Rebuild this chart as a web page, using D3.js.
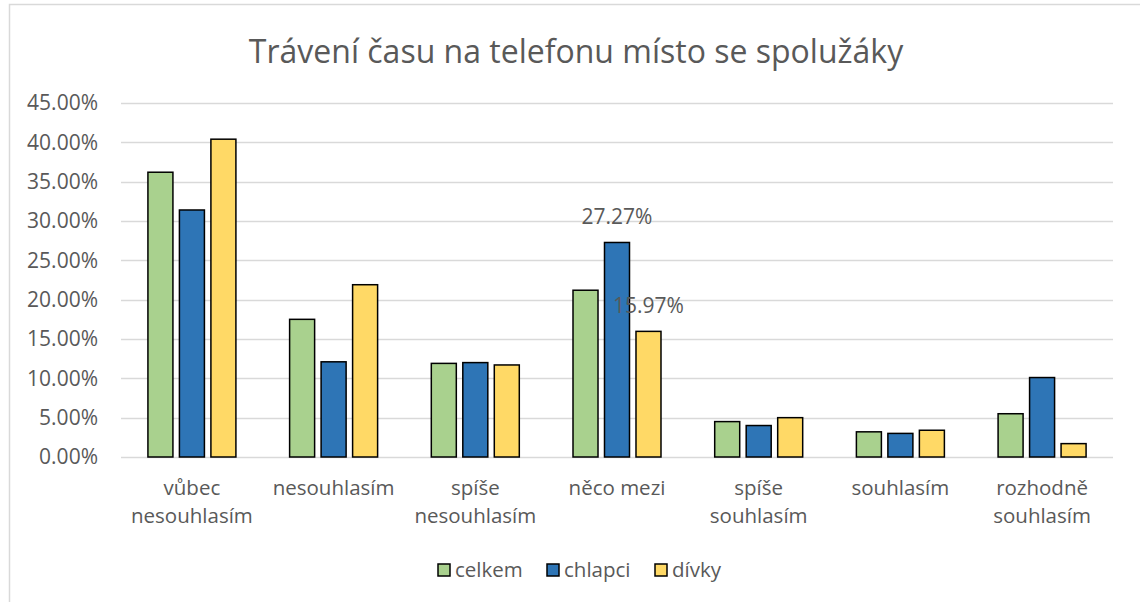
<!DOCTYPE html>
<html>
<head>
<meta charset="utf-8">
<script src="https://cdn.jsdelivr.net/npm/d3@7"></script>
<style>
  body { margin: 0; background: #fff; }
  text { font-family: "Open Sans", sans-serif; fill: #595959; }
</style>
</head>
<body>
<div id="chart"></div>
<script>
// data
const categories = [
  ["vůbec", "nesouhlasím"],
  ["nesouhlasím"],
  ["spíše", "nesouhlasím"],
  ["něco mezi"],
  ["spíše", "souhlasím"],
  ["souhlasím"],
  ["rozhodně", "souhlasím"]
];
const seriesNames = ["celkem", "chlapci", "dívky"];
const celkem  = [0.362, 0.175, 0.119, 0.212, 0.045, 0.032, 0.055];
const chlapci = [0.314, 0.121, 0.120, 0.2727, 0.040, 0.030, 0.101];
const divky   = [0.404, 0.219, 0.117, 0.1597, 0.050, 0.034, 0.017];
const yTicks = [0, 0.05, 0.10, 0.15, 0.20, 0.25, 0.30, 0.35, 0.40, 0.45];
const colors = ["#a9d18e", "#2e75b6", "#ffd966"];
// only these two bars carry a data label in the original
const labelled = [{s: 1, c: 3}, {s: 2, c: 3}];

const W = 1140, H = 602;
const margin = {top: 103, right: 27, bottom: 145, left: 121};
const innerW = W - margin.left - margin.right;
const innerH = H - margin.top - margin.bottom;

const svg = d3.select("#chart").append("svg")
  .attr("width", W)
  .attr("height", H);

// chart frame
svg.append("rect")
  .attr("x", 9.5).attr("y", 4.5)
  .attr("width", W).attr("height", H)
  .attr("fill", "none")
  .attr("stroke", "#d9d9d9")
  .attr("stroke-width", 1.5);

svg.append("text")
  .attr("x", 576).attr("y", 63)
  .attr("text-anchor", "middle")
  .style("font-size", "32px")
  .text("Trávení času na telefonu místo se spolužáky");

const g = svg.append("g").attr("transform", `translate(${margin.left},${margin.top})`);

const x0 = d3.scaleBand()
  .domain(d3.range(categories.length))
  .range([0, innerW])
  .paddingInner(0.379)
  .paddingOuter(0.19);

const x1 = d3.scaleBand()
  .domain(d3.range(seriesNames.length))
  .range([0, x0.bandwidth()])
  .paddingInner(0.206);

const y = d3.scaleLinear().domain([0, 0.45]).range([innerH, 0]);

// gridlines
g.append("g")
  .selectAll("line")
  .data(yTicks)
  .join("line")
  .attr("x1", 0).attr("x2", innerW)
  .attr("y1", d => Math.round(y(d)) + 0.5)
  .attr("y2", d => Math.round(y(d)) + 0.5)
  .attr("stroke", "#d9d9d9")
  .attr("stroke-width", 1.5);

// y axis labels
const yAxis = g.append("g")
  .call(d3.axisLeft(y).tickValues(yTicks).tickFormat(d => (d * 100).toFixed(2) + "%").tickSize(0).tickPadding(23));
yAxis.select(".domain").remove();
yAxis.selectAll("text")
  .style("font-size", "21px")
  .attr("fill", "#595959");

const series = [celkem, chlapci, divky];

const groups = g.selectAll(".grp")
  .data(categories)
  .join("g")
  .attr("class", "grp")
  .attr("transform", (d, i) => `translate(${x0(i)},0)`);

groups.selectAll("rect")
  .data((d, i) => series.map((s, k) => ({k: k, v: s[i]})))
  .join("rect")
  .attr("x", d => x1(d.k))
  .attr("y", d => y(d.v))
  .attr("width", x1.bandwidth())
  .attr("height", d => innerH - y(d.v))
  .attr("fill", d => colors[d.k])
  .attr("stroke", "#000")
  .attr("stroke-width", 1.5);

// data labels
g.selectAll(".dlabel")
  .data(labelled)
  .join("text")
  .attr("class", "dlabel")
  .attr("x", d => x0(d.c) + x1(d.s) + x1.bandwidth() / 2)
  .attr("y", d => y(series[d.s][d.c]) - 18)
  .attr("text-anchor", "middle")
  .style("font-size", "21px")
  .text(d => (series[d.s][d.c] * 100).toFixed(2) + "%");

// category labels
const xl = g.selectAll(".xl")
  .data(categories)
  .join("text")
  .attr("class", "xl")
  .attr("x", (d, i) => x0(i) + x0.bandwidth() / 2)
  .attr("y", innerH + 38)
  .attr("text-anchor", "middle")
  .style("font-size", "20.5px");
xl.selectAll("tspan")
  .data(d => d)
  .join("tspan")
  .attr("x", function() { return this.parentNode.getAttribute("x"); })
  .attr("dy", (d, i) => i === 0 ? 0 : 28)
  .text(d => d);

// legend
const legendX = [438, 547, 655];
const legend = svg.selectAll(".leg")
  .data(seriesNames)
  .join("g")
  .attr("class", "leg")
  .attr("transform", (d, i) => `translate(${legendX[i]},564)`);
legend.append("rect")
  .attr("width", 12).attr("height", 12)
  .attr("fill", (d, i) => colors[i])
  .attr("stroke", "#000")
  .attr("stroke-width", 1.5);
legend.append("text")
  .attr("x", 17).attr("y", 13)
  .style("font-size", "20.5px")
  .text(d => d);
</script>
</body>
</html>
